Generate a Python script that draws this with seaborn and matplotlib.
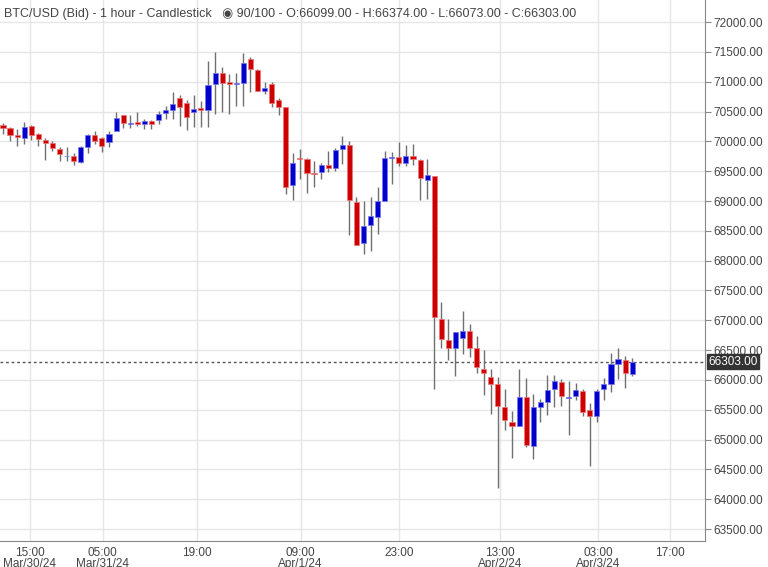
import matplotlib
matplotlib.use("Agg")
import matplotlib.pyplot as plt
import seaborn as sns
import numpy as np
import pandas as pd

opens = [70270,70220,70100,70060,70260,70120,70020,69970,69870,69750,69760,69650,69900,70100,70050,69990,70170,70440,70290,70330,
         70290,70340,70360,70470,70520,70730,70640,70490,70560,70530,70960,71140,70990,70970,70980,71380,71200,70850,70960,70700,
         70580,69270,69720,69700,69470,69490,69610,69560,69870,69940,68980,68300,68600,68730,69000,69720,69740,69630,69760,69690,
         69350,69420,67020,66670,66540,66710,66820,66540,66180,66050,65930,65550,65300,65230,65710,64890,65550,65630,65850,65970,
         65700,65730,65820,65500,65400,65840,65930,66270,66340,66099]
closes = [70230,70100,70070,70240,70100,70040,69970,69890,69790,69760,69670,69900,70100,70000,69930,70120,70400,70300,70300,70290,
          70340,70290,70460,70520,70630,70580,70410,70540,70530,70940,71140,70980,70960,70980,71320,71210,70840,70900,70640,70580,
          69240,69640,69700,69470,69450,69600,69550,69860,69940,69020,68260,68580,68750,69000,69720,69740,69640,69760,69700,69390,
          69440,67050,66690,66540,66800,66820,66540,66220,66120,65930,65560,65330,65230,65710,64910,65550,65630,65830,65980,65730,
          65710,65830,65460,65400,65820,65930,66270,66350,66110,66303]
highs = [70300,70240,70200,70320,70280,70140,70050,70000,69900,69900,69800,69920,70130,70170,70080,70170,70500,70450,70450,70500,
         70380,70360,70510,70600,70820,70770,70690,70770,70670,71350,71490,71240,71130,71150,71480,71410,71220,71000,71000,70720,
         70580,69800,69880,69720,69670,69630,69840,69890,70090,70010,69070,69000,69060,69240,69840,69820,69990,69940,69960,69700,
         69700,69420,67300,67020,66800,67150,66930,66730,66500,66180,66050,65840,65480,66180,66030,65760,65680,66090,66090,66010,
         65990,65950,65840,65620,65840,66030,66450,66540,66400,66374]
lows = [70130,70000,69920,69950,70020,69920,69690,69840,69670,69670,69600,69630,69810,69950,69820,69900,70310,70220,70220,70250,
        70200,70200,70290,70370,70370,70260,70190,70240,70240,70240,70460,70500,70460,70590,70600,70820,70840,70790,70570,70450,
        69120,69020,69370,69140,69240,69370,69490,69500,69620,68430,68260,68110,68170,68450,69160,69290,69580,69590,69610,69020,
        69030,65850,66540,66340,66070,66430,66390,66120,65750,65430,64190,65160,64690,65300,64880,64670,65290,65410,65540,65560,
        65070,65660,65390,64560,65300,65670,65800,66020,65860,66073]

tick_pos = [3.8, 14.1, 27.4, 42.1, 56.0, 70.3, 84.2, 94.3]
tick_labels = ["15:00\nMar/30/24", "05:00\nMar/31/24", "19:00", "09:00\nApr/1/24", "23:00",
               "13:00\nApr/2/24", "03:00\nApr/3/24", "17:00"]
y_ticks = list(range(63500, 72001, 500))
last_price = 66303

df = pd.DataFrame({"open": opens, "close": closes, "high": highs, "low": lows})
df["idx"] = np.arange(len(df))
df["up"] = df["close"] >= df["open"]

sns.set_style("white")
plt.rcParams["font.family"] = ["Liberation Sans", "DejaVu Sans"]
fig = plt.figure(figsize=(7.68, 5.67), dpi=100)
ax = fig.add_axes([0.0, 1 - 541 / 567, 705 / 768, 541 / 567])

ymin, ymax = 63300, 72370
ax.set_xlim(-0.42, 99.3)
ax.set_ylim(ymin, ymax)
for y in y_ticks:
    ax.axhline(y, color="#e6e6e6", lw=1, zorder=0)
for x in tick_pos:
    ax.axvline(x, color="#e6e6e6", lw=1, zorder=0)

ax.vlines(df["idx"], df["low"], df["high"], color="#707070", lw=1, zorder=2)
colors = np.where(df["up"], "#0000cc", "#cc0000")
bottoms = np.minimum(df["open"], df["close"])
heights = np.maximum(np.abs(df["close"] - df["open"]), 12)
ax.bar(df["idx"], heights, bottom=bottoms, width=0.72, color=colors,
       edgecolor=np.where(df["up"], "#7777ee", "#ee7777"), linewidth=0.5, zorder=3)

ax.axhline(last_price, color="#555555", lw=1, ls=(0, (2, 2)), zorder=1)

ax.yaxis.tick_right()
ax.set_yticks(y_ticks)
ax.set_yticklabels([f"{v}.00" for v in y_ticks], fontsize=8.5, color="#444444")
ax.set_xticks(tick_pos)
ax.set_xticklabels(tick_labels, fontsize=8.5, color="#444444", linespacing=0.95)
ax.tick_params(axis="x", length=3, color="#888888", pad=1)
ax.tick_params(axis="y", length=4, color="#888888", pad=2)
for s in ["top", "left"]:
    ax.spines[s].set_visible(False)
for s in ["right", "bottom"]:
    ax.spines[s].set_color("#888888")

ax.text(1.005, (last_price - ymin) / (ymax - ymin), f"{last_price}.00", transform=ax.transAxes,
        fontsize=8.5, color="white", va="center", ha="left",
        bbox=dict(boxstyle="square,pad=0.12", fc="#333333", ec="#333333"))

ax.text(0.005, 0.985, "BTC/USD (Bid) - 1 hour - Candlestick   \u25C9 90/100 - O:66099.00 - H:66374.00 - L:66073.00 - C:66303.00",
        transform=ax.transAxes, fontsize=9, color="#444444", va="top", ha="left")

fig.savefig("out.png", dpi=100)
